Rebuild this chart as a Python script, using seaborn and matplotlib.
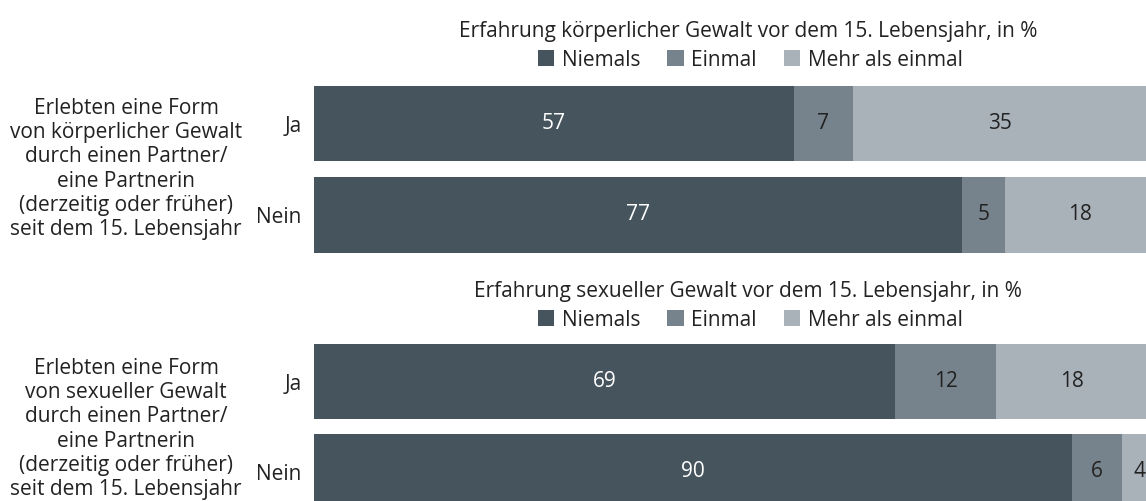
import pandas as pd
import matplotlib.pyplot as plt
import seaborn as sns
from matplotlib.patches import Patch

# data
answers = ["Ja", "Nein"]
series = ["Niemals", "Einmal", "Mehr als einmal"]
koerper_niemals = [57, 77]
koerper_einmal = [7, 5]
koerper_mehr = [35, 18]
sexuell_niemals = [69, 90]
sexuell_einmal = [12, 6]
sexuell_mehr = [18, 4]

titles = ["Erfahrung körperlicher Gewalt vor dem 15. Lebensjahr, in %",
          "Erfahrung sexueller Gewalt vor dem 15. Lebensjahr, in %"]
row_labels = ["Erlebten eine Form\nvon körperlicher Gewalt\ndurch einen Partner/\neine Partnerin\n(derzeitig oder früher)\nseit dem 15. Lebensjahr",
              "Erlebten eine Form\nvon sexueller Gewalt\ndurch einen Partner/\neine Partnerin\n(derzeitig oder früher)\nseit dem 15. Lebensjahr"]

colors = ["#46545e", "#76838c", "#a9b2b9"]
txt = "#222222"
FS = 15

sns.set_theme(style="white")
plt.rcParams["font.family"] = ["Open Sans", "DejaVu Sans"]

W, H = 1146, 501
fig = plt.figure(figsize=(W / 100, H / 100), dpi=100)


def fx(px):
    return px / W


def fy(py):
    return 1 - py / H


def panel(rect, niemals, einmal, mehr, title, label, title_y, legend_y, label_y):
    ax = fig.add_axes(rect)
    df = pd.DataFrame({"answer": answers, "Niemals": niemals,
                       "Einmal": einmal, "Mehr": mehr})
    df["c1"] = df["Niemals"]
    df["c2"] = df["Niemals"] + df["Einmal"]
    df["c3"] = df["c2"] + df["Mehr"]
    # stacked by overlapping cumulative bars, widest first
    for col, c in zip(["c3", "c2", "c1"], colors[::-1]):
        sns.barplot(data=df, x=col, y="answer", color=c, width=0.83,
                    orient="h", ax=ax, saturation=1, linewidth=0)
    for i, row in df.iterrows():
        starts = [0, row["c1"], row["c2"]]
        vals = [row["Niemals"], row["Einmal"], row["Mehr"]]
        for k, (s, v) in enumerate(zip(starts, vals)):
            ax.text(s + v / 2, i, str(v), ha="center", va="center",
                    fontsize=FS, color="white" if k == 0 else txt)
    ax.set_xlim(0, 98.8)
    ax.set_ylim(1.5, -0.5)
    ax.set_xlabel("")
    ax.set_ylabel("")
    ax.set_xticks([])
    ax.tick_params(axis="y", length=0, pad=9, labelsize=FS, labelcolor=txt)
    sns.despine(ax=ax, left=True, bottom=True)

    fig.text(fx(748), fy(title_y), title, ha="center", va="center",
             fontsize=FS, color=txt)
    handles = [Patch(facecolor=c, edgecolor="none") for c in colors]
    fig.legend(handles, series, loc="center", bbox_to_anchor=(fx(750), fy(legend_y)),
               ncol=3, frameon=False, fontsize=FS, handlelength=0.8,
               handleheight=0.8, handletextpad=0.35, columnspacing=1.3,
               labelcolor=txt)
    fig.text(fx(126), fy(label_y), label, ha="center", va="center",
             fontsize=FS, color=txt, linespacing=1.2)


panel([fx(314), fy(260.75), 1 - fx(314), 183 / H],
      koerper_niemals, koerper_einmal, koerper_mehr, titles[0], row_labels[0],
      32, 60, 169)
panel([fx(314), fy(516.5), 1 - fx(314), 180 / H],
      sexuell_niemals, sexuell_einmal, sexuell_mehr, titles[1], row_labels[1],
      291, 320, 429)

fig.savefig("out.png", dpi=100)
